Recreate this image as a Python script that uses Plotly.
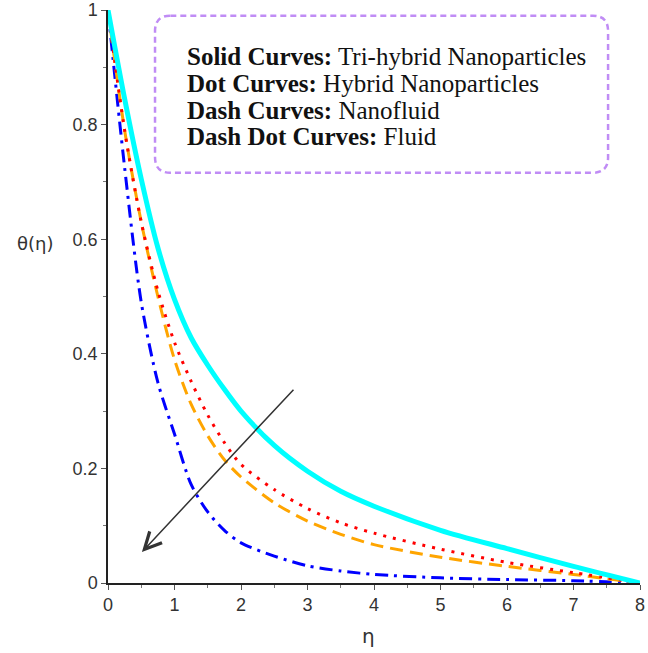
import plotly.graph_objects as go

# eta grid and temperature profiles theta(eta)
eta = [0, 0.25, 0.5, 0.75, 1.0, 1.25, 1.5, 1.75, 2.0, 2.5, 3.0, 3.5, 4.0, 5.0, 6.0, 7.0, 8.0]

theta_trihybrid = [1.0, 0.845, 0.705, 0.585, 0.495, 0.428, 0.38, 0.338, 0.30, 0.24, 0.195, 0.16, 0.134, 0.092, 0.06, 0.029, 0.0]
theta_hybrid = [1.0, 0.79, 0.63, 0.51, 0.42, 0.352, 0.293, 0.245, 0.207, 0.163, 0.13, 0.105, 0.087, 0.059, 0.036, 0.018, 0.0]
theta_nanofluid = [1.0, 0.79, 0.63, 0.50, 0.39, 0.312, 0.257, 0.215, 0.185, 0.14, 0.108, 0.085, 0.067, 0.045, 0.029, 0.015, 0.0]
theta_fluid = [1.0, 0.725, 0.49, 0.35, 0.26, 0.172, 0.124, 0.092, 0.07, 0.047, 0.03, 0.021, 0.015, 0.009, 0.006, 0.004, 0.0]

x_ticks = [0, 1, 2, 3, 4, 5, 6, 7, 8]
y_ticks = [0, 0.2, 0.4, 0.6, 0.8, 1]

legend_lines = [
    ("Solid Curves:", "Tri-hybrid Nanoparticles"),
    ("Dot Curves:", "Hybrid Nanoparticles"),
    ("Dash Curves:", "Nanofluid"),
    ("Dash Dot Curves:", "Fluid"),
]

fig = go.Figure()

fig.add_trace(go.Scatter(
    x=eta, y=theta_fluid, mode="lines",
    line=dict(color="#0000FF", width=3, dash="13px,6px,3px,6px", shape="spline", smoothing=0.8),
))
fig.add_trace(go.Scatter(
    x=eta, y=theta_nanofluid, mode="lines",
    line=dict(color="#FFA500", width=3, dash="13px,7px", shape="spline", smoothing=0.8),
))
fig.add_trace(go.Scatter(
    x=eta, y=theta_hybrid, mode="lines",
    line=dict(color="#FF0000", width=3, dash="3px,7px", shape="spline", smoothing=0.8),
))
fig.add_trace(go.Scatter(
    x=eta, y=theta_trihybrid, mode="lines",
    line=dict(color="#00FFFF", width=5, shape="spline", smoothing=0.8),
))

# arrow showing decreasing trend
fig.add_annotation(
    x=0.51, y=0.054, ax=2.81, ay=0.34,
    xref="x", yref="y", axref="x", ayref="y",
    showarrow=True, arrowhead=5, arrowsize=2.2, arrowwidth=1.5, arrowcolor="#333333",
    text="",
)

# dashed rounded box for the legend text
x0, x1, y0, y1 = 0.707, 7.52, 0.716, 0.990
rx, ry = 0.23, 0.027
box_path = (
    f"M {x0 + rx},{y1} L {x1 - rx},{y1} Q {x1},{y1} {x1},{y1 - ry} "
    f"L {x1},{y0 + ry} Q {x1},{y0} {x1 - rx},{y0} "
    f"L {x0 + rx},{y0} Q {x0},{y0} {x0},{y0 + ry} "
    f"L {x0},{y1 - ry} Q {x0},{y1} {x0 + rx},{y1} Z"
)
fig.add_shape(type="path", path=box_path, xref="x", yref="y",
              line=dict(color="#C08CF5", width=2.5, dash="6px,4px"))

for i, (bold, plain) in enumerate(legend_lines):
    fig.add_annotation(
        x=1.16, y=0.918 - i * 0.0465, xref="x", yref="y",
        text=f"<b>{bold}</b> {plain}", showarrow=False,
        xanchor="left", yanchor="middle",
        font=dict(family="Liberation Serif", size=25, color="#111111"),
    )

# axis titles
fig.add_annotation(
    x=-0.137, y=0.592, xref="paper", yref="paper", text="θ(η)", showarrow=False,
    xanchor="center", yanchor="middle",
    font=dict(family="DejaVu Sans", size=18, color="#333333"),
)
fig.add_annotation(
    x=0.489, y=-0.0925, xref="paper", yref="paper", text="η", showarrow=False,
    xanchor="center", yanchor="middle",
    font=dict(family="DejaVu Sans", size=20, color="#333333"),
)

fig.update_xaxes(
    range=[0, 8], tickvals=x_ticks, showgrid=False, zeroline=False, automargin=False,
    showline=True, linecolor="#222222", linewidth=1.5,
    ticks="outside", ticklen=5, tickcolor="#555555",
    minor=dict(dtick=0.5, ticks="outside", ticklen=3, tickcolor="#777777"),
    tickfont=dict(family="Liberation Sans", size=18, color="#333333"),
)
fig.update_yaxes(
    range=[0, 1], tickvals=y_ticks, showgrid=False, zeroline=False, automargin=False,
    showline=True, linecolor="#222222", linewidth=1.5,
    ticks="outside", ticklen=5, tickcolor="#555555",
    minor=dict(dtick=0.1, ticks="outside", ticklen=3, tickcolor="#777777"),
    tickfont=dict(family="Liberation Sans", size=18, color="#333333"),
)

fig.update_layout(
    width=648, height=653,
    margin=dict(l=108, r=8, t=10, b=70),
    plot_bgcolor="white", paper_bgcolor="white",
    showlegend=False,
)

# drop the browser's default page margin so the figure sits at the top-left corner
fig.write_html(
    "out.html",
    config={"displayModeBar": False},
    post_script="document.body.style.margin='0';",
)
